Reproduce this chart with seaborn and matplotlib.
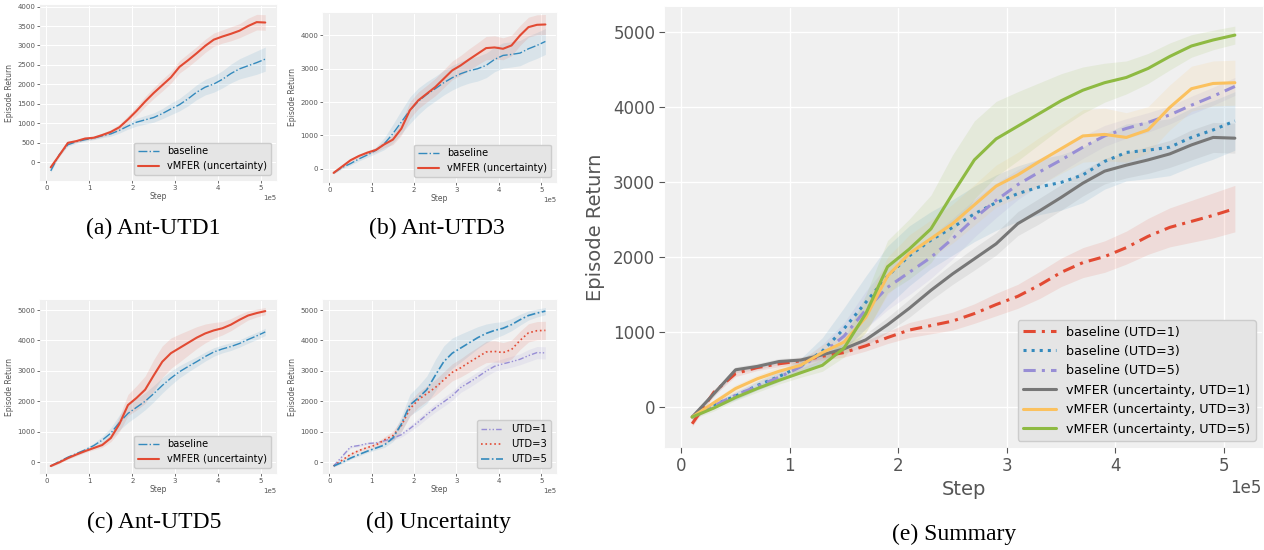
import matplotlib
matplotlib.use("Agg")
import numpy as np
import pandas as pd
import seaborn as sns
import matplotlib.pyplot as plt

# ---------------- data (x in units of 1e5 steps) ----------------
step_e5 = [0.1, 0.3, 0.5, 0.7, 0.9, 1.1, 1.3, 1.5, 1.7, 1.9, 2.1, 2.3, 2.5,
           2.7, 2.9, 3.1, 3.3, 3.5, 3.7, 3.9, 4.1, 4.3, 4.5, 4.7, 4.9, 5.1]

base_utd1 = [-220, 200, 450, 530, 580, 620, 680, 730, 820, 930, 1030, 1090, 1150,
             1250, 1370, 1480, 1630, 1800, 1930, 2010, 2130, 2280, 2400, 2480, 2560, 2650]
base_utd3 = [-130, 30, 150, 290, 410, 550, 750, 1050, 1400, 1750, 2020, 2230, 2400,
             2580, 2730, 2850, 2940, 3000, 3100, 3280, 3400, 3430, 3470, 3600, 3700, 3820]
base_utd5 = [-130, 20, 160, 280, 400, 540, 720, 950, 1300, 1600, 1800, 2000, 2250,
             2520, 2760, 2970, 3140, 3300, 3470, 3620, 3720, 3800, 3900, 4030, 4150, 4280]
vmfer_utd1 = [-130, 180, 500, 545, 610, 630, 700, 780, 900, 1100, 1320, 1560, 1780,
              1980, 2180, 2450, 2620, 2800, 2990, 3150, 3230, 3300, 3380, 3500, 3600, 3590]
vmfer_utd3 = [-130, 60, 250, 380, 480, 560, 730, 870, 1200, 1750, 2050, 2250, 2450,
              2700, 2950, 3100, 3280, 3450, 3620, 3640, 3600, 3700, 4000, 4250, 4320, 4330]
vmfer_utd5 = [-130, -10, 130, 250, 360, 460, 560, 790, 1250, 1875, 2110, 2380, 2850,
              3300, 3580, 3750, 3920, 4090, 4230, 4330, 4400, 4520, 4680, 4820, 4900, 4965]

# band half-widths (std)
std_base_utd1 = [40, 40, 40, 40, 40, 40, 50, 60, 70, 80, 100, 110, 120,
                 130, 150, 160, 180, 190, 200, 210, 220, 240, 260, 280, 300, 310]
std_base_utd3 = [30, 40, 50, 60, 70, 100, 180, 280, 350, 400, 400, 380, 370,
                 370, 370, 370, 370, 370, 370, 370, 380, 380, 380, 390, 390, 390]
std_base_utd5 = [30, 40, 50, 50, 60, 80, 120, 180, 250, 300, 300, 280, 270,
                 250, 230, 200, 180, 160, 150, 140, 130, 130, 120, 120, 120, 120]
std_vmfer_utd1 = [30, 40, 40, 40, 40, 40, 50, 60, 80, 100, 120, 130, 140,
                  150, 150, 160, 170, 170, 170, 170, 170, 180, 180, 200, 200, 200]
std_vmfer_utd3 = [30, 40, 50, 50, 60, 70, 100, 150, 200, 250, 250, 250, 260,
                  270, 280, 300, 320, 330, 350, 350, 330, 310, 300, 300, 300, 300]
std_vmfer_utd5 = [30, 40, 40, 50, 50, 60, 80, 120, 250, 350, 400, 450, 520,
                  520, 500, 460, 410, 360, 310, 260, 220, 200, 180, 150, 130, 120]

captions = ["(a) Ant-UTD1", "(b) Ant-UTD3", "(c) Ant-UTD5", "(d) Uncertainty", "(e) Summary"]
summary_labels = ["baseline (UTD=1)", "baseline (UTD=3)", "baseline (UTD=5)",
                  "vMFER (uncertainty, UTD=1)", "vMFER (uncertainty, UTD=3)",
                  "vMFER (uncertainty, UTD=5)"]
unc_labels = ["UTD=1", "UTD=3", "UTD=5"]

steps = np.array(step_e5) * 1e5

# ---------------- style ----------------
RED, BLUE, PURPLE, GRAY, ORANGE, GREEN = "#E24A33", "#348ABD", "#988ED5", "#777777", "#FBC15E", "#8EBA42"
sns.set_style("darkgrid", {
    "axes.facecolor": "#F0F0F0",
    "axes.edgecolor": "#F0F0F0",
    "grid.color": "white",
    "xtick.color": "#555555",
    "ytick.color": "#555555",
    "axes.labelcolor": "#555555",
    "text.color": "#555555",
    "xtick.bottom": True,
    "ytick.left": True,
    "xtick.direction": "out",
    "ytick.direction": "out",
})
plt.rcParams["font.family"] = ["DejaVu Sans"]

W, H = 1264, 550
fig = plt.figure(figsize=(W / 100, H / 100), dpi=100)


def px_axes(left, top, right, bottom):
    return fig.add_axes([left / W, 1 - bottom / H, (right - left) / W, (bottom - top) / H])


def draw(ax, y, sd, color, ls, lw, label):
    y = np.array(y, float)
    sd = np.array(sd, float)
    ax.fill_between(steps, y - sd, y + sd, color=color, alpha=0.12, lw=0)
    sns.lineplot(x=steps, y=y, ax=ax, color=color, linestyle=ls, linewidth=lw, label=label)


def style_small(ax, ylim, yticks, legend_fs):
    ax.set_xlim(-0.15e5, 5.35e5)
    ax.set_ylim(*ylim)
    ax.set_yticks(yticks)
    ax.set_xticks([0, 1e5, 2e5, 3e5, 4e5, 5e5])
    ax.ticklabel_format(axis="x", style="sci", scilimits=(0, 0))
    ax.xaxis.get_offset_text().set_fontsize(5)
    ax.tick_params(labelsize=5, length=2, width=0.6, pad=1.5)
    ax.set_xlabel("Step", fontsize=5.5, labelpad=1)
    ax.set_ylabel("Episode Return", fontsize=5.5, labelpad=2)
    ax.grid(True, color="white", linewidth=0.8)
    leg = ax.legend(loc="lower right", fontsize=legend_fs, facecolor="#E5E5E5",
                    edgecolor="#CCCCCC", framealpha=1, handlelength=2.2)
    for t in leg.get_texts():
        t.set_color("black")


# (a)
axa = px_axes(40, 5, 276, 180)
draw(axa, base_utd1, std_base_utd1, BLUE, "-.", 1.0, "baseline")
draw(axa, vmfer_utd1, std_vmfer_utd1, RED, "-", 1.5, "vMFER (uncertainty)")
style_small(axa, (-455, 4040), [0, 500, 1000, 1500, 2000, 2500, 3000, 3500, 4000], 7)

# (b)
axb = px_axes(323, 13, 556, 182)
draw(axb, base_utd3, std_base_utd3, BLUE, "-.", 1.0, "baseline")
draw(axb, vmfer_utd3, std_vmfer_utd3, RED, "-", 1.5, "vMFER (uncertainty)")
style_small(axb, (-404, 4675), [0, 1000, 2000, 3000, 4000], 7)

# (c)
axc = px_axes(40, 300, 276, 473)
draw(axc, base_utd5, std_base_utd5, BLUE, "-.", 1.0, "baseline")
draw(axc, vmfer_utd5, std_vmfer_utd5, RED, "-", 1.5, "vMFER (uncertainty)")
style_small(axc, (-360, 5330), [0, 1000, 2000, 3000, 4000, 5000], 7)

# (d)
axd = px_axes(323, 300, 556, 473)
draw(axd, vmfer_utd1, std_vmfer_utd1, PURPLE, (0, (4, 1.5, 1, 1.5, 1, 1.5)), 1.0, unc_labels[0])
draw(axd, vmfer_utd3, std_vmfer_utd3, RED, ":", 1.2, unc_labels[1])
draw(axd, vmfer_utd5, std_vmfer_utd5, BLUE, (0, (5, 1.5, 1, 1.5)), 1.2, unc_labels[2])
style_small(axd, (-360, 5330), [0, 1000, 2000, 3000, 4000, 5000], 7.2)

# (e) summary
axe = px_axes(665, 7, 1262, 447)
series = [(base_utd1, std_base_utd1, RED, (0, (4, 2, 1, 2))),
          (base_utd3, std_base_utd3, BLUE, ":"),
          (base_utd5, std_base_utd5, PURPLE, (0, (4, 2, 1, 2))),
          (vmfer_utd1, std_vmfer_utd1, GRAY, "-"),
          (vmfer_utd3, std_vmfer_utd3, ORANGE, "-"),
          (vmfer_utd5, std_vmfer_utd5, GREEN, "-")]
for (y, sd, c, ls), lab in zip(series, summary_labels):
    draw(axe, y, sd, c, ls, 2.2, lab)
axe.set_xlim(-0.15e5, 5.35e5)
axe.set_ylim(-530, 5340)
axe.set_yticks([0, 1000, 2000, 3000, 4000, 5000])
axe.set_xticks([0, 1e5, 2e5, 3e5, 4e5, 5e5])
axe.ticklabel_format(axis="x", style="sci", scilimits=(0, 0))
axe.xaxis.get_offset_text().set_fontsize(12)
axe.tick_params(labelsize=12, length=4, width=0.8, pad=3)
axe.set_xlabel("Step", fontsize=14, labelpad=4)
axe.set_ylabel("Episode Return", fontsize=14, labelpad=6)
axe.grid(True, color="white", linewidth=1.0)
leg = axe.legend(loc="lower right", fontsize=9.2, facecolor="#E5E5E5",
                 edgecolor="#CCCCCC", framealpha=1, handlelength=2.6)
for t in leg.get_texts():
    t.set_color("black")

# captions
cap_pos = [(153, 228), (437, 228), (154, 522), (438, 522), (954, 534)]
for txt, (cx, cy) in zip(captions, cap_pos):
    fig.text(cx / W, 1 - cy / H, txt, ha="center", va="center", fontsize=17,
             family=["Liberation Serif", "DejaVu Serif"], color="black")

fig.savefig("out.png", dpi=100)
